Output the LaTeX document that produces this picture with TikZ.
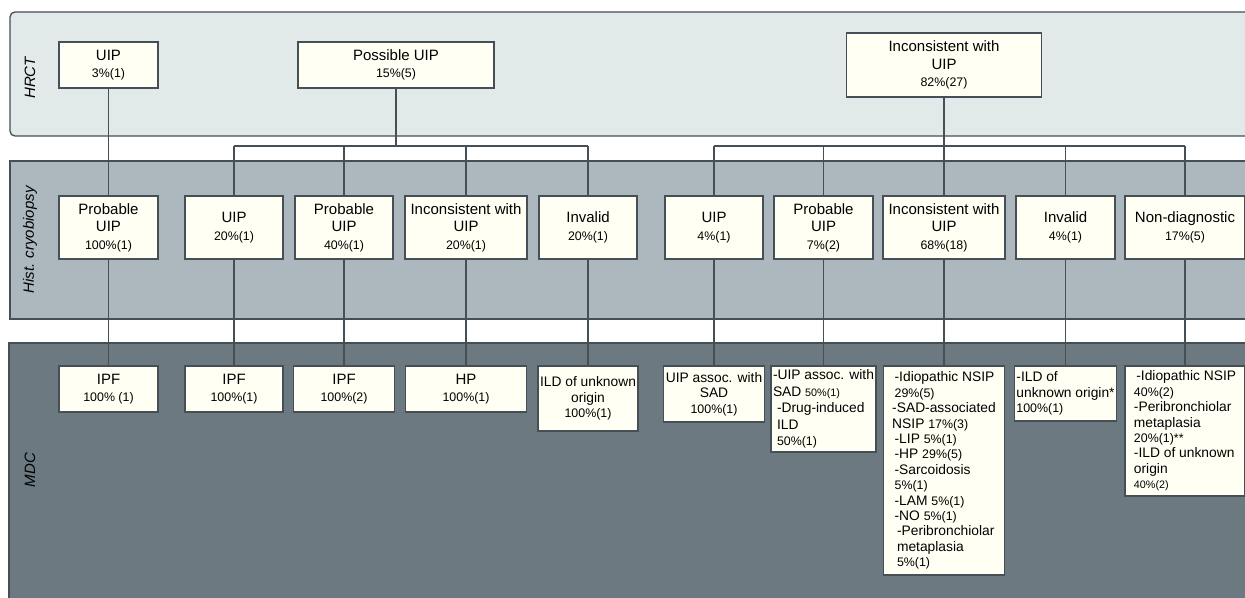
\documentclass[tikz,border=0pt]{standalone}
\usepackage{fontspec}
\setmainfont{Liberation Sans}
\usepackage{xcolor}
\usepackage{tikz}
\usetikzlibrary{positioning}

\definecolor{hrctfill}{HTML}{E1E9E9}
\definecolor{histfill}{HTML}{ACB8BD}
\definecolor{mdcfill}{HTML}{6C7981}
\definecolor{boxfill}{HTML}{FFFFF4}
\definecolor{linec}{HTML}{454F55}

\newcommand{\ttl}{\fontsize{7.5}{8.8}\selectfont}
\newcommand{\lsf}{\fontsize{6.9}{7.7}\selectfont}
\newcommand{\pct}{\fontsize{6.2}{7.7}\selectfont}
\newcommand{\tny}{\fontsize{5.4}{7.7}\selectfont}

\begin{document}
\begin{tikzpicture}[x=0.5pt, y=-0.5pt,
  band/.style={draw=linec, line width=0.65pt},
  box/.style={rectangle, draw=linec, fill=boxfill, line width=0.65pt, outer sep=0pt, inner sep=1pt, align=center, font=\ttl, minimum width=49pt, minimum height=31.5pt},
  wide/.style={box, minimum width=61pt},
  lowbox/.style={box, minimum height=23pt},
  listbox/.style={box, align=left, font=\lsf},
  lane/.style={rotate=90, font=\ttl\itshape},
  link/.style={draw=linec, line width=0.75pt}
]
\clip (0,0) rectangle (1245,598);
\fill[white] (0,0) rectangle (1245,598);
\draw[band, fill=hrctfill, rounded corners=2.5pt] (10,12) rectangle (1262,136);
\draw[band, fill=histfill] (10,161) rectangle (1262,319);
\draw[band, fill=mdcfill] (9,343) rectangle (1262,612);
\node[lane] (lh) at (30,78) {HRCT};
\node[lane] (lb) at (30,240) {Hist. cryobiopsy};
\node[lane] (lm) at (30,470) {MDC};

\node[box, minimum width=49.5pt] (h1) at (108.5,227.5) {Probable\\UIP\\{\pct 100\%(1)}};
\node[box, right=13.5pt of h1] (h2) {UIP\\{\pct 20\%(1)}};
\node[box, right=6pt of h2] (h3) {Probable\\UIP\\{\pct 40\%(1)}};
\node[wide, right=6pt of h3] (h4) {Inconsistent with\\UIP\\{\pct 20\%(1)}};
\node[box, right=6pt of h4] (h5) {Invalid\\{\pct 20\%(1)}};
\node[box, right=14pt of h5] (h6) {UIP\\{\pct 4\%(1)}};
\node[box, right=5.5pt of h6, minimum width=49.5pt] (h7) {Probable\\UIP\\{\pct 7\%(2)}};
\node[wide, right=5pt of h7] (h8) {Inconsistent with\\UIP\\{\pct 68\%(18)}};
\node[box, right=5.5pt of h8, minimum width=49.5pt] (h9) {Invalid\\{\pct 4\%(1)}};
\node[box, right=5pt of h9, minimum width=60pt] (h10) {Non-diagnostic\\{\pct 17\%(5)}};

\node[lowbox, above=54pt of h1, minimum width=49.5pt] (t1) {UIP\\{\pct 3\%(1)}};
\node[lowbox, minimum width=98pt] (t2) at (396,65) {Possible UIP\\{\pct 15\%(5)}};
\node[box, above=49.5pt of h8, minimum width=97.5pt, minimum height=32pt] (t3) {Inconsistent with\\UIP\\{\pct 82\%(27)}};

\node[lowbox, below=53.5pt of h1, minimum width=49.5pt] (m1) {IPF\\{\pct 100\% (1)}};
\node[lowbox, below=53.5pt of h2] (m2) {IPF\\{\pct 100\%(1)}};
\node[lowbox, below=53.5pt of h3, minimum width=50.5pt] (m3) {IPF\\{\pct 100\%(2)}};
\node[lowbox, below=53.5pt of h4, minimum width=60.5pt] (m4) {HP\\{\pct 100\%(1)}};
\node[box, below=53.5pt of h5, minimum width=48.5pt, minimum height=32.5pt, font=\lsf] (m5) {ILD of unknown\\origin\\{\pct 100\%(1)}};
\node[box, below=53.5pt of h6, minimum width=50pt, minimum height=28pt, font=\lsf] (m6) {UIP assoc. with\\SAD\\{\pct 100\%(1)}};
\node[listbox, below=53.5pt of h7, minimum width=50.5pt, minimum height=43pt, font=\fontsize{6.9}{8.3}\selectfont] (m7) {-UIP assoc. with\\SAD {\tny 50\%(1)}\\\hspace*{2pt}-Drug-induced\\\hspace*{2pt}ILD\\\hspace*{2pt}{\pct 50\%(1)}};
\node[listbox, below=53.5pt of h8, minimum width=60.5pt, minimum height=104.5pt] (m8) {\hspace*{1.2pt}-Idiopathic NSIP\\\hspace*{1.2pt}{\pct 29\%(5)}\\-SAD-associated\\NSIP {\pct 17\%(3)}\\\hspace*{1.2pt}-LIP {\pct 5\%(1)}\\\hspace*{1.2pt}-HP {\pct 29\%(5)}\\\hspace*{1.2pt}-Sarcoidosis\\\hspace*{1.2pt}{\pct 5\%(1)}\\\hspace*{1.2pt}-LAM {\pct 5\%(1)}\\\hspace*{1.2pt}-NO {\pct 5\%(1)}\\\hspace*{2.4pt}-Peribronchiolar\\\hspace*{2.4pt}metaplasia\\\hspace*{2.4pt}{\pct 5\%(1)}};
\node[listbox, below=53.5pt of h9, minimum width=49.5pt, minimum height=27.5pt] (m9) {-ILD of\\unknown origin*\\{\pct 100\%(1)}};
\node[listbox, below=53.5pt of h10, minimum width=60pt, minimum height=65pt] (m10) {\hspace*{1.2pt}-Idiopathic NSIP\\{\pct 40\%(2)}\\-Peribronchiolar\\metaplasia\\{\pct 20\%(1)**}\\-ILD of unknown\\origin\\{\tny 40\%(2)}};

\coordinate (busl) at (396,146);
\coordinate (busr) at (944,146);
\draw[link] (t1) -- (h1);
\draw[link] (t2) -- (busl);
\draw[link] (h2 |- busl) -- (h5 |- busl);
\foreach \n in {h2,h3,h4,h5}
  \draw[link] (\n |- busl) -- (\n);
\draw[link] (t3) -- (h8);
\draw[link] (h6 |- busr) -- (h10 |- busr);
\foreach \n in {h6,h7,h9,h10}
  \draw[link] (\n |- busr) -- (\n);
\foreach \i in {1,...,10}
  \draw[link] (h\i) -- (m\i);
\end{tikzpicture}
\end{document}
